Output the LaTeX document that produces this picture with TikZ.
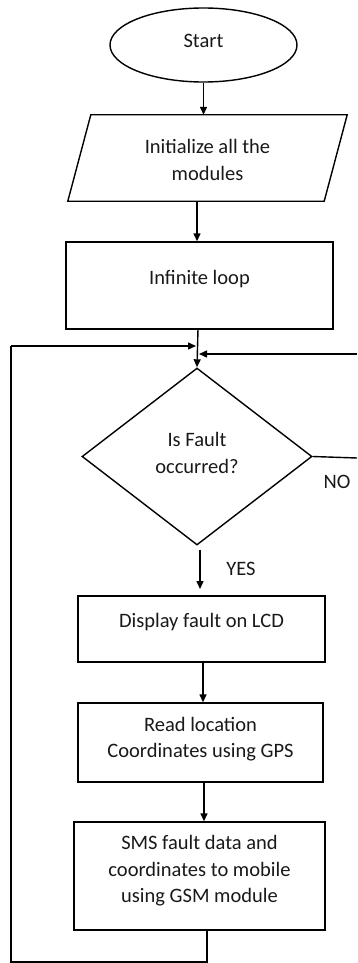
\documentclass[tikz,border=0pt]{standalone}
\usepackage{fontspec}
\setmainfont{Carlito}
\usetikzlibrary{shapes.geometric,arrows.meta,calc}
\begin{document}
\begin{tikzpicture}[x=1pt,y=-1pt,
  every node/.style={font=\fontsize{20.5}{26.5}\selectfont, text=black!90, align=center, inner sep=0pt},
  box/.style={draw=black, line width=1.4pt, rectangle},
  arr/.style={line width=1.4pt, -{Triangle[length=8pt,width=7pt]}},
  ln/.style={line width=1.4pt}]
\useasboundingbox (0,0) rectangle (357,963);
% Start
\node[draw=black, line width=1.4pt, ellipse, minimum width=187, minimum height=74] (start) at (203.5,45) {};
\node (startt) at (203.5,41) {Start};
% Initialize (parallelogram)
\node[minimum width=256, minimum height=86] (init) at (207.5,158) {};
\draw[ln] ($(init.south west)+(-11.5,0)$) -- ($(init.north west)+(11.5,0)$) -- ($(init.north east)+(11.5,0)$) -- ($(init.south east)+(-11.5,0)$) -- cycle;
\node (initt) at (207.5,160) {Initialize all the\\modules};
% Infinite loop
\node[box, minimum width=267, minimum height=87] (loop) at (199.5,285.5) {};
\node (loopt) at (199.5,279) {Infinite loop};
% Decision
\node[draw=black, line width=1.4pt, diamond, minimum width=230, minimum height=177] (dia) at (197,456.5) {};
\node (diat) at (197,453) {Is Fault\\occurred?};
% Display
\node[box, minimum width=247, minimum height=66] (disp) at (201.5,629) {};
\node (dispt) at (201.5,622) {Display fault on LCD};
% Read
\node[box, minimum width=245, minimum height=79] (read) at (200.5,742.5) {};
\node (readt) at (200.5,739) {Read location\\Coordinates using GPS};
% SMS
\node[box, minimum width=251, minimum height=108] (sms) at (199.5,876) {};
\node (smst) at (199.5,871) {SMS fault data and\\coordinates to mobile\\using GSM module};
% labels
\node (no) at (337,482) {NO};
\node (yes) at (241,569) {YES};
% coordinates for loops
\coordinate (rin) at (357,354);
\coordinate (nout) at (357,458);
\coordinate (bot) at (207,962);
\coordinate (botl) at (11,962);
\coordinate (topl) at (11,346);
\coordinate (jl) at (196,346);
\coordinate (jr) at (199,354);
\coordinate (a1) at (197,201);
\coordinate (a2) at (198,329);
\coordinate (a3) at (203,662);
\coordinate (a4) at (204,782);
\coordinate (y1) at (200,550);
\coordinate (y2) at (200,589);
% connectors
\draw[arr] (start.south) -- (start.south |- init.north);
\draw[arr] (a1) -- (a1 |- loop.north);
\draw[arr] (a2) -- (dia.north);
\draw[ln] (dia.east) -- (nout);
\draw[arr] (rin) -- (jr);
\draw[arr] (y1) -- (y2);
\draw[arr] (a3) -- (a3 |- read.north);
\draw[arr] (a4) -- (a4 |- sms.north);
\draw[ln] (sms.south -| bot) -- (bot) -- (botl) -- (topl);
\draw[arr] (topl) -- (jl);
\end{tikzpicture}
\end{document}
